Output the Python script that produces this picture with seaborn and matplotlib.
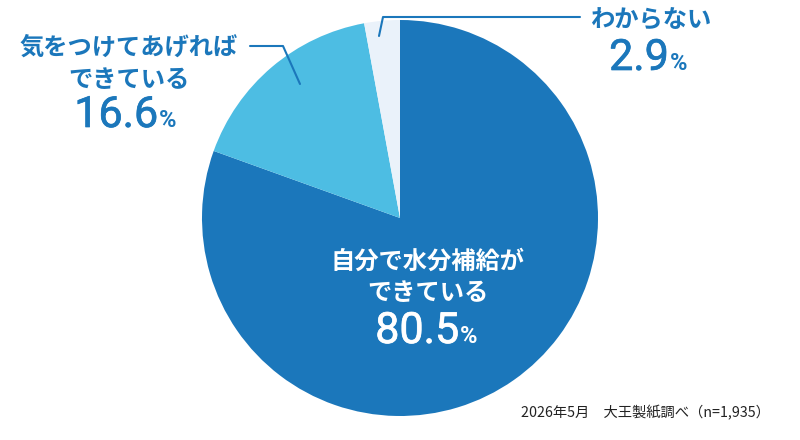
import matplotlib
matplotlib.use("Agg")
import matplotlib.pyplot as plt
import matplotlib.patheffects as pe
import seaborn as sns

# =========================
# データ
# =========================
categories = [["自分で水分補給が", "できている"],
              ["気をつけてあげれば", "できている"],
              ["わからない"]]
values = [80.5, 16.6, 2.9]
value_labels = ["80.5", "16.6", "2.9"]
colors = ["#1b77bb", "#4dbde3", "#eaf2fa"]
note = "2026年5月　大王製紙調べ（n=1,935）"

TEXT_BLUE = "#1b77bb"

sns.set_style("white")
plt.rcParams["font.family"] = ["Noto Sans CJK JP", "DejaVu Sans"]

fig = plt.figure(figsize=(8, 4.4), dpi=100)
ax = fig.add_axes([0, 0, 1, 1])

H = 440
cx, cy, r = 400, H - 218, 198

ax.pie(values, colors=colors, startangle=90, counterclock=False,
       center=(cx, cy), radius=r, wedgeprops=dict(linewidth=0),
       frame=True)
ax.set_xlim(0, 800)
ax.set_ylim(0, 440)
ax.set_aspect("equal")
ax.axis("off")


def cat_label(x, ys, lines, color):
    for y, s in zip(ys, lines):
        ax.text(x, H - y, s, ha="center", va="center", fontsize=17.5,
                fontweight="bold", color=color)


def pct_label(x_split, y, num, color, size=31):
    # 数字はやや太め (regular + 細いストローク)
    thick = [pe.withStroke(linewidth=0.5, foreground=color)]
    ax.text(x_split, H - y, num, ha="right", va="baseline", fontsize=size,
            family="Roboto", fontweight="normal", color=color,
            path_effects=thick)
    ax.text(x_split + 1, H - y, "%", ha="left", va="baseline",
            fontsize=size * 0.55, family="Roboto", fontweight="bold",
            color=color)


# 中央ラベル (80.5%)
cat_label(428, [262, 293], categories[0], "white")
pct_label(459, 343, value_labels[0], "white")

# 左ラベル (16.6%)
cat_label(129, [48, 80], categories[1], TEXT_BLUE)
pct_label(158, 127, value_labels[1], TEXT_BLUE)
ax.plot([250, 283, 300], [H - 46, H - 46, H - 84], color=TEXT_BLUE, lw=1.5)

# 右ラベル (2.9%)
cat_label(651, [20], categories[2], TEXT_BLUE)
pct_label(669, 70, value_labels[2], TEXT_BLUE)
ax.plot([580, 383, 379], [H - 17, H - 17, H - 36], color=TEXT_BLUE, lw=1.5)

# 注記
ax.text(770, H - 413, note, ha="right", va="center", fontsize=10.3,
        color="#222222")

fig.savefig("out.png", dpi=100)
